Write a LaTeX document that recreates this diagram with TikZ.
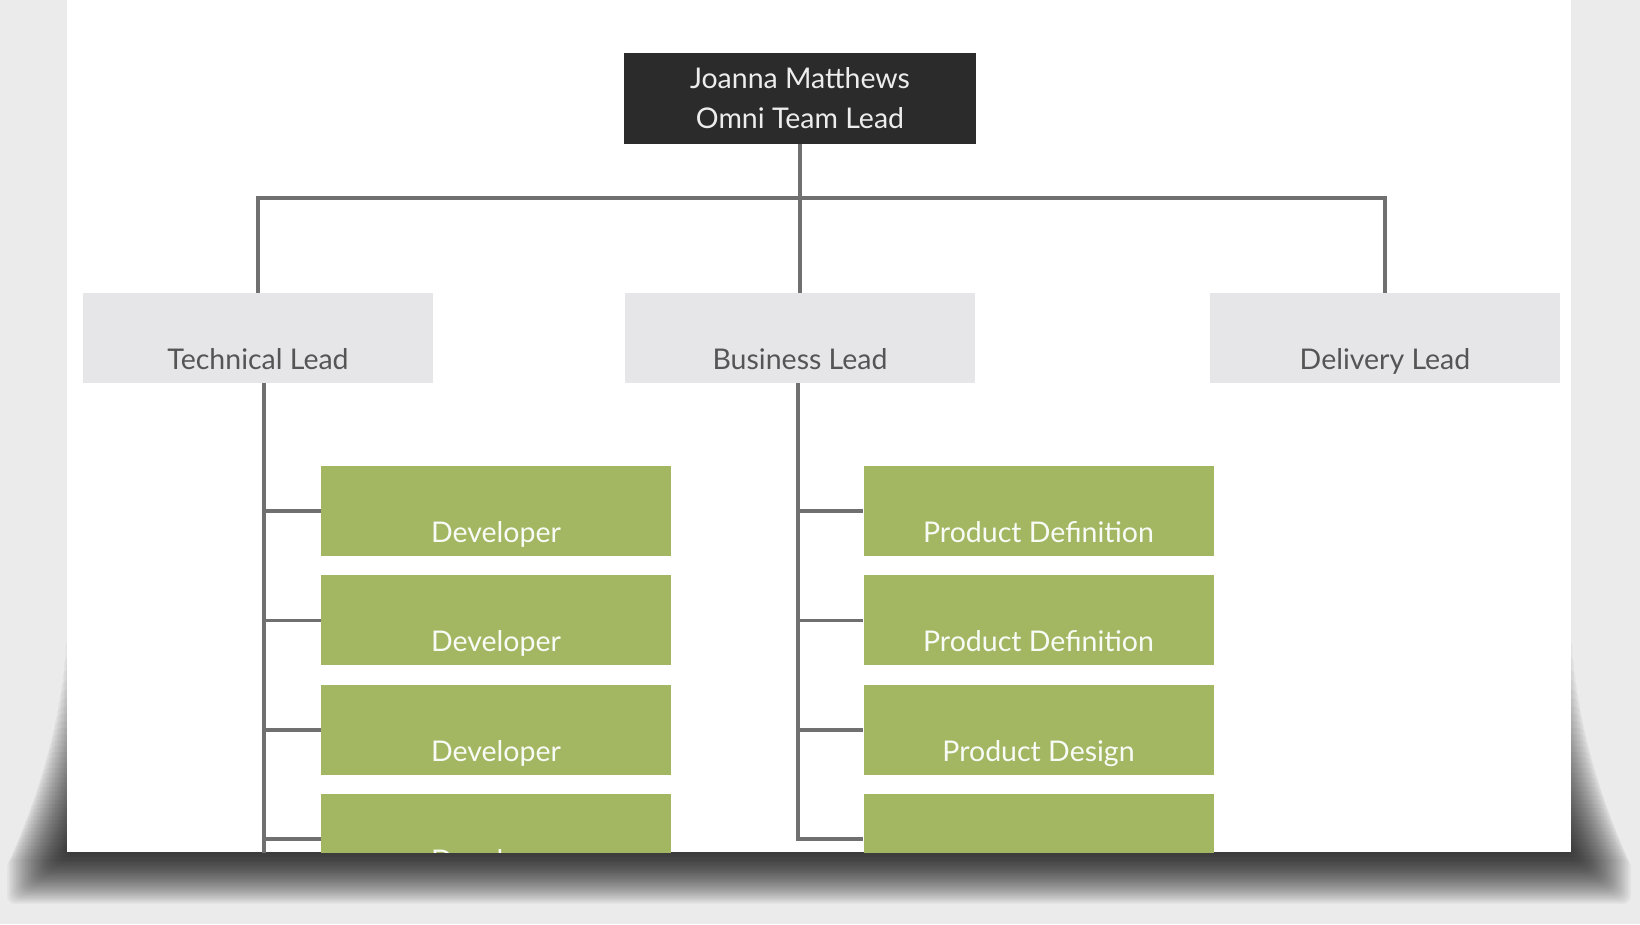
\documentclass[tikz,border=0pt]{standalone}
\usepackage{fontspec}
\setmainfont{Lato}
\usetikzlibrary{positioning}
\definecolor{bgcanvas}{HTML}{ECEBEB}
\definecolor{headbox}{HTML}{2B2B2B}
\definecolor{leadbox}{HTML}{E6E5E8}
\definecolor{leadtext}{HTML}{555555}
\definecolor{rolebox}{HTML}{A3B762}
\definecolor{wiregray}{HTML}{707070}

\begin{document}
\begin{tikzpicture}[x=1pt,y=-1pt,line cap=butt,line join=miter,
  every node/.style={font=\fontsize{28.5}{40}\selectfont},
  headnode/.style={fill=headbox,text=white!93!black,minimum width=352,minimum height=91,align=center},
  leadnode/.style={fill=leadbox,text=leadtext,minimum width=350,minimum height=90,text height=63pt,text depth=0pt},
  rolenode/.style={fill=rolebox,text=white!94!rolebox,minimum width=350,minimum height=90,text height=63pt,text depth=0pt},
  wire/.style={draw=wiregray,line width=3.5pt}]
      \useasboundingbox (0,0) rectangle (1640,924);
      \fill[bgcanvas] (0,0) rectangle (1640,924);
      \foreach \k [evaluate=\k as \tk using 597+262*sqrt(\k/40)] in {1,...,40}
        \fill[black,opacity=0.032,rounded corners=8pt] (67-1.5*\k,\tk) rectangle (1571+1.5*\k,852+1.3*\k);
      \fill[white] (67,0) rectangle (1571,852);
      \begin{scope}
      \clip (67,0) rectangle (1571,852);
      \node[headnode] (lead) at (800,98.5) {Joanna Matthews\\Omni Team Lead};
      \node[leadnode] (tech) at (258,338) {Technical Lead};
      \node[leadnode] (biz) at (800,338) {Business Lead};
      \node[leadnode] (deliv) at (1385,338) {Delivery Lead};
      \node[rolenode] (dev1) at (496,511) {Developer};
      \node[rolenode,below=19pt of dev1] (dev2) {Developer};
      \node[rolenode,below=19pt of dev2] (dev3) {Developer};
      \node[rolenode,below=19pt of dev3] (dev4) {Developer};
      \node[rolenode] (prod1) at (1038.5,511) {Product Definition};
      \node[rolenode,below=19pt of prod1] (prod2) {Product Definition};
      \node[rolenode,below=19pt of prod2] (prod3) {Product Design};
      \node[rolenode,below=19pt of prod3] (prod4) {};
      \coordinate (bus) at (800,198);
      \coordinate (techend) at ([xshift=6pt]tech.south |- 0,900);
      \draw[wire] (lead.south) -- (bus);
      \draw[wire] (tech.north) |- (bus) -| (deliv.north);
      \draw[wire] (bus) -- (biz.north);
      \draw[wire] ([xshift=6pt]tech.south) -- (techend);
      \foreach \i in {1,...,4}
        \draw[wire] ([xshift=6pt]tech.south |- dev\i.west) -- (dev\i.west);
      \draw[wire] ([xshift=-2pt]biz.south) |- (prod4.west);
      \foreach \i in {1,...,3}
        \draw[wire] ([xshift=-2pt]biz.south |- prod\i.west) -- (prod\i.west);
      \end{scope}
\end{tikzpicture}
\end{document}
